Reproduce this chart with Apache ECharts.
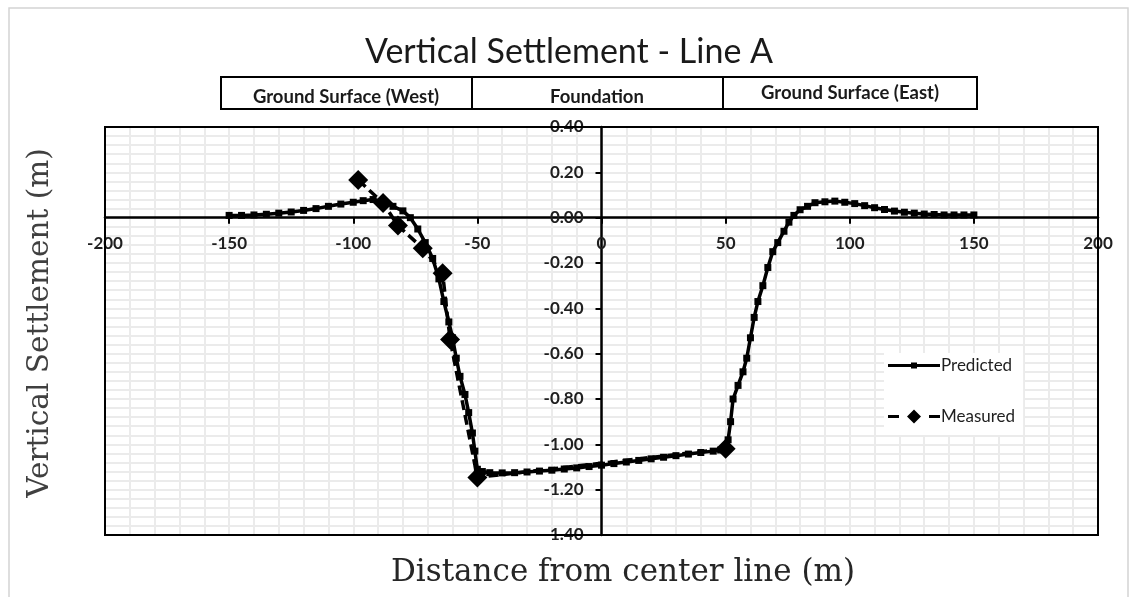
<!DOCTYPE html>
<html>
<head>
<meta charset="utf-8">
<title>Vertical Settlement - Line A</title>
<script src="https://cdn.jsdelivr.net/npm/echarts@6/dist/echarts.min.js"></script>
<style>
  html, body { margin: 0; padding: 0; background: #fff; }
  #chart { width: 1138px; height: 597px; }
</style>
</head>
<body>
<div id="chart"></div>
<script>
// predicted settlement (m) vs distance from center line (m)
const predX = [-150, -145, -140, -135, -130, -125, -120, -115, -110, -105, -100, -96, -92, -88, -84, -80, -77,
  -74, -71, -68, -65.5, -63.5, -61.5, -60, -58.5, -57, -55, -53.5, -52, -51, -50,
  -48, -45, -40, -35, -30, -25, -20, -15, -10, -5, 0, 5, 10, 15, 20, 25, 30, 35, 40, 45, 48, 50,
  51, 52, 53, 55, 57, 58.5, 60, 61.5, 63, 65, 67, 69, 71, 73.5, 75.5, 77.5, 80, 83, 86, 90, 94,
  98, 102, 106, 110, 114, 118, 122, 126, 130, 134, 138, 142, 146, 150];
const predY = [0.01, 0.01, 0.012, 0.015, 0.02, 0.025, 0.032, 0.04, 0.05, 0.06, 0.068, 0.075, 0.08, 0.07, 0.05, 0.03, 0.0,
  -0.05, -0.11, -0.18, -0.27, -0.37, -0.46, -0.53, -0.62, -0.70, -0.78, -0.86, -0.95, -1.03, -1.11,
  -1.12, -1.125, -1.126, -1.125, -1.122, -1.118, -1.114, -1.109, -1.104, -1.098, -1.092, -1.085, -1.078, -1.071, -1.064, -1.057, -1.05, -1.043, -1.036, -1.03, -1.025, -1.02,
  -0.98, -0.90, -0.80, -0.74, -0.68, -0.62, -0.53, -0.44, -0.37, -0.30, -0.22, -0.15, -0.11, -0.06, -0.02, 0.01, 0.035, 0.05, 0.066, 0.07, 0.073,
  0.068, 0.062, 0.053, 0.044, 0.036, 0.029, 0.024, 0.02, 0.016, 0.014, 0.012, 0.012, 0.012, 0.012];

// measured settlement
const measX = [-98, -88, -82, -72, -64, -61, -50, 50];
const measY = [0.166, 0.065, -0.035, -0.135, -0.245, -0.538, -1.146, -1.02];

const xTicks = { min: -200, max: 200, interval: 50 };
const yTicks = { min: -1.4, max: 0.4, interval: 0.2 };

const zonesLabels = ['Ground Surface (West)', 'Foundation', 'Ground Surface (East)'];

const predicted = predX.map((x, i) => [x, predY[i]]);
const measured = measX.map((x, i) => [x, measY[i]]);

const labelFont = 'Lato, "Open Sans", sans-serif';
const serifFont = '"DejaVu Serif", "Liberation Serif", serif';

// legend icons: solid line with a small square / dashes with a diamond
const iconPredicted = 'path://M0,1.5L23,1.5L23,0L29,0L29,1.5L52,1.5L52,4.5L29,4.5L29,6L23,6L23,4.5L0,4.5Z';
const iconMeasured = 'path://M0,5.5L11,5.5L11,8.5L0,8.5Z M26,0L33,7L26,14L19,7Z M41,5.5L52,5.5L52,8.5L41,8.5Z';

let option = {
  backgroundColor: '#fff',
  animation: false,
  grid: {
    left: 105,
    right: 40,
    top: 127,
    bottom: 62,
  },
  legend: {
    orient: 'vertical',
    left: 884,
    top: 353,
    itemGap: 34,
    itemWidth: 52,
    itemHeight: 14,
    symbolKeepAspect: true,
    backgroundColor: '#fff',
    padding: [4, 8, 10, 4],
    textStyle: { fontFamily: labelFont, fontSize: 17, color: '#1f1f1f', padding: [0, 0, 0, -4] },
    data: [
      { name: 'Predicted', icon: iconPredicted },
      { name: 'Measured', icon: iconMeasured },
    ],
  },
  xAxis: {
    type: 'value',
    min: xTicks.min,
    max: xTicks.max,
    interval: xTicks.interval,
    axisLine: { onZero: false, lineStyle: { color: '#000', width: 2.5 } },
    axisTick: { show: true, inside: false, length: 6, lineStyle: { color: '#000', width: 2 } },
    axisLabel: { fontFamily: labelFont, fontWeight: 'bold', fontSize: 17, color: '#1f1f1f', margin: 17 },
    splitLine: { show: true, lineStyle: { color: '#ebebeb', width: 2 } },
    minorTick: { show: false, splitNumber: 5 },
    minorSplitLine: { show: true, lineStyle: { color: '#ebebeb', width: 2 } },
  },
  yAxis: {
    type: 'value',
    min: yTicks.min,
    max: yTicks.max,
    interval: yTicks.interval,
    axisLine: { onZero: false, lineStyle: { color: '#000', width: 2.5 } },
    axisTick: { show: true, inside: false, length: 6, lineStyle: { color: '#000', width: 2 } },
    axisLabel: {
      fontFamily: labelFont, fontWeight: 'bold', fontSize: 17, color: '#1f1f1f', margin: 18,
      formatter: (v) => v.toFixed(2),
    },
    splitLine: { show: true, lineStyle: { color: '#ebebeb', width: 2 } },
    minorTick: { show: false, splitNumber: 5 },
    minorSplitLine: { show: true, lineStyle: { color: '#ebebeb', width: 2 } },
  },
  series: [
    {
      name: 'Measured',
      type: 'line',
      data: measured,
      symbol: 'diamond',
      symbolSize: 20,
      itemStyle: { color: '#000' },
      lineStyle: { color: '#000', width: 3.5, type: [10, 5] },
      z: 3,
    },
    {
      name: 'Predicted',
      type: 'line',
      data: predicted,
      symbol: 'rect',
      symbolSize: 7,
      itemStyle: { color: '#000' },
      lineStyle: { color: '#000', width: 3.5 },
      z: 4,
    },
  ],
  graphic: [
    {
      type: 'rect',
      shape: { x: 9, y: 8, width: 1119, height: 600 },
      style: { fill: 'none', stroke: '#d4d4d4', lineWidth: 1.5 },
      silent: true,
    },
    {
      type: 'text',
      left: 'center',
      top: 35,
      style: { text: 'Vertical Settlement - Line A', font: '34px ' + labelFont, fill: '#1a1a1a' },
    },
    {
      type: 'group',
      left: 220,
      top: 76,
      children: [
        { type: 'rect', shape: { x: 0, y: 0, width: 251, height: 32 }, style: { fill: '#fff', stroke: '#000', lineWidth: 2 } },
        { type: 'rect', shape: { x: 251, y: 0, width: 251, height: 32 }, style: { fill: '#fff', stroke: '#000', lineWidth: 2 } },
        { type: 'rect', shape: { x: 502, y: 0, width: 254, height: 32 }, style: { fill: '#fff', stroke: '#000', lineWidth: 2 } },
        { type: 'text', x: 125, y: 20, style: { text: zonesLabels[0], font: 'bold 18.5px ' + labelFont, fill: '#1a1a1a', align: 'center', verticalAlign: 'middle' } },
        { type: 'text', x: 376, y: 20, style: { text: zonesLabels[1], font: 'bold 18.5px ' + labelFont, fill: '#1a1a1a', align: 'center', verticalAlign: 'middle' } },
        { type: 'text', x: 629, y: 16, style: { text: zonesLabels[2], font: 'bold 18.5px ' + labelFont, fill: '#1a1a1a', align: 'center', verticalAlign: 'middle' } },
      ],
    },
    {
      type: 'text',
      x: 40,
      y: 323,
      rotation: Math.PI / 2,
      style: { text: 'Vertical Settlement (m)', font: '29.5px ' + serifFont, fill: '#404040', align: 'center', verticalAlign: 'middle' },
    },
    {
      type: 'text',
      x: 623,
      y: 573,
      style: { text: 'Distance from center line (m)', font: '31px ' + serifFont, fill: '#262626', align: 'center', verticalAlign: 'middle' },
    },
  ],
};

let chartDom = document.getElementById('chart');
let myChart = echarts.init(chartDom);
myChart.setOption(option);

// move both axes onto the zero lines and frame the plot area
const origin = myChart.convertToPixel({ gridIndex: 0 }, [0, 0]);
const topLeft = myChart.convertToPixel({ gridIndex: 0 }, [xTicks.min, yTicks.max]);
const bottomRight = myChart.convertToPixel({ gridIndex: 0 }, [xTicks.max, yTicks.min]);
myChart.setOption({
  xAxis: { offset: origin[1] - bottomRight[1] },
  yAxis: { offset: topLeft[0] - origin[0] },
  graphic: [
    {
      id: 'plotFrame',
      type: 'rect',
      z: 10,
      silent: true,
      shape: {
        x: topLeft[0],
        y: topLeft[1],
        width: bottomRight[0] - topLeft[0],
        height: bottomRight[1] - topLeft[1],
      },
      style: { fill: 'none', stroke: '#000', lineWidth: 2 },
    },
  ],
});

window.onresize = function () {
  myChart.resize();
};
</script>
</body>
</html>
